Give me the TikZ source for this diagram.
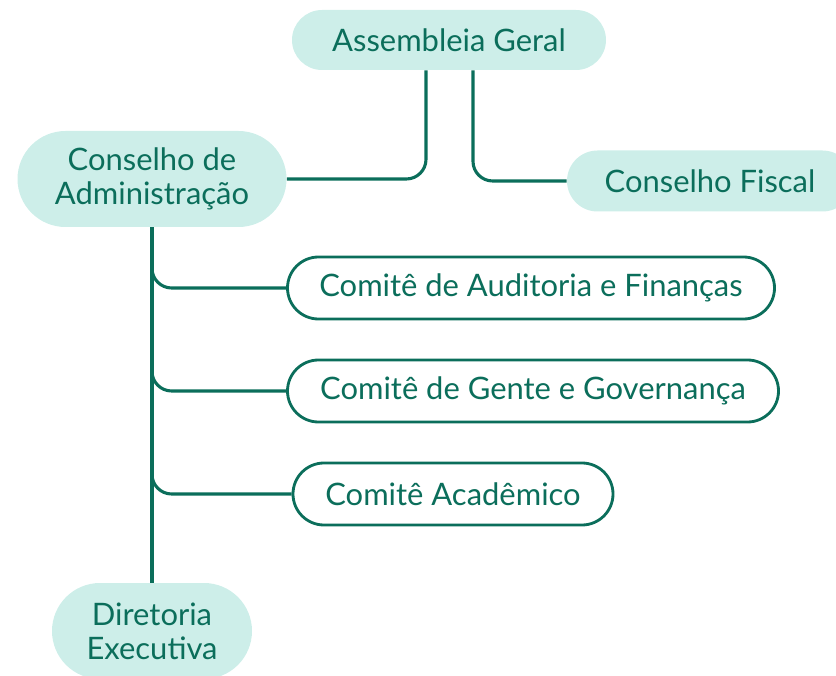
\documentclass[tikz,border=0pt]{standalone}
\usepackage{fontspec}
\setmainfont{Lato}
\usetikzlibrary{shapes.misc}
\definecolor{verde}{HTML}{0B6E5B}
\definecolor{menta}{HTML}{CDEEE9}
\newcommand\pxu{0.025cm}
\tikzset{
  base/.style={rounded rectangle, text=verde, align=center, inner sep=0pt,
    font=\fontsize{22}{24}\selectfont},
  cheio/.style={base, fill=menta},
  vazio/.style={base, draw=verde, line width=2pt, fill=white},
  liga/.style={draw=verde, line width=2.2pt, rounded corners=14pt}
}
\begin{document}
\begin{tikzpicture}[x=0.025cm, y=-0.025cm]
    \useasboundingbox (0,0) rectangle (836,676);
    \clip (0,0) rectangle (836,676);

    % Nodes
    \node[cheio, minimum width=314*\pxu, minimum height=60*\pxu] (ag) at (449,40) {Assembleia Geral};
    \node[cheio, minimum width=269*\pxu, minimum height=96*\pxu] (ca) at (152,179) {Conselho de\\Administração};
    \node[cheio, minimum width=286*\pxu, minimum height=61*\pxu] (cf) at (710,181) {Conselho Fiscal};
    \node[vazio, minimum width=487*\pxu, minimum height=62*\pxu] (c1) at (531,288) {Comitê de Auditoria e Finanças};
    \node[vazio, minimum width=491*\pxu, minimum height=62*\pxu] (c2) at (533,391) {Comitê de Gente e Governança};
    \node[vazio, minimum width=320*\pxu, minimum height=62*\pxu] (c3) at (453,494) {Comitê Acadêmico};
    \node[cheio, minimum width=200*\pxu, minimum height=96*\pxu] (de) at (152,631) {Diretoria\\Executiva};

    % Edges
    \draw[liga] ([xshift=-23*\pxu]ag.south) |- (ca.east);
    \draw[liga] ([xshift=24*\pxu]ag.south) |- (cf.west);
    \draw[liga] (ca.south) -- (de.north);
    \foreach \c in {c1,c2,c3}
        \draw[liga] (ca.south) |- (\c.west);
\end{tikzpicture}
\end{document}
